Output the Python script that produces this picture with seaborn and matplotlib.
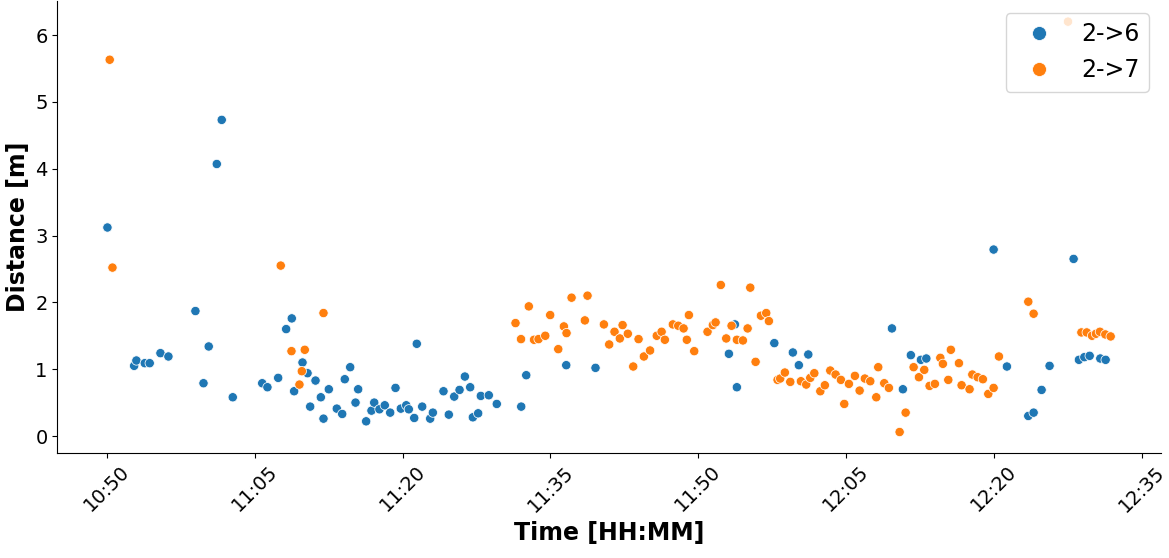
import numpy as np
import pandas as pd
import matplotlib
matplotlib.use("Agg")
import matplotlib.pyplot as plt
import matplotlib.dates as mdates
import seaborn as sns

# minutes after 10:50 and distance [m], link 2->6
t_26 = [0.03, 2.74, 2.97, 3.82, 4.32, 5.41, 6.22, 8.96, 9.78, 10.31, 11.13, 11.63, 12.75,
        15.74, 16.27, 17.36, 18.17, 18.74, 18.98, 19.83, 20.34, 20.61, 21.15, 21.69, 21.96,
        22.50, 23.31, 23.86, 24.12, 24.67, 25.21, 25.48, 26.29, 26.83, 27.11, 27.64, 28.18,
        28.73, 29.27, 29.81, 30.36, 30.62, 31.17, 31.43, 31.98, 32.79, 33.06, 34.14, 34.68,
        35.23, 35.77, 36.31, 36.85, 37.12, 37.66, 37.93, 38.74, 39.55, 42.03, 42.54, 46.60,
        49.57, 63.11, 63.72, 63.92, 67.72, 69.60, 70.21, 71.17, 79.66, 80.77, 81.58, 82.60,
        83.15, 89.98, 91.33, 93.50, 94.04, 94.85, 95.66, 98.10, 98.64, 99.19, 99.73, 100.81,
        101.35]
d_26 = [3.12, 1.05, 1.13, 1.09, 1.09, 1.24, 1.19, 1.87, 0.79, 1.34, 4.07, 4.73, 0.58,
        0.79, 0.73, 0.87, 1.60, 1.76, 0.67, 1.10, 0.94, 0.44, 0.83, 0.58, 0.26,
        0.70, 0.41, 0.33, 0.85, 1.03, 0.50, 0.70, 0.22, 0.38, 0.50, 0.40, 0.46,
        0.35, 0.72, 0.41, 0.46, 0.40, 0.27, 1.38, 0.44, 0.26, 0.35, 0.67, 0.32,
        0.59, 0.69, 0.89, 0.73, 0.28, 0.34, 0.60, 0.61, 0.48, 0.44, 0.91, 1.06,
        1.02, 1.23, 1.67, 0.73, 1.39, 1.25, 1.06, 1.22, 1.61, 0.70, 1.21, 1.14,
        1.16, 2.79, 1.04, 0.30, 0.35, 0.69, 1.05, 2.65, 1.14, 1.18, 1.20, 1.16,
        1.14]

# minutes after 10:50 and distance [m], link 2->7
t_27 = [0.26, 0.54, 17.62, 18.71, 19.52, 19.76, 20.06, 21.96, 41.45, 42.01, 42.80, 43.33,
        43.79, 44.47, 44.97, 45.79, 46.36, 46.63, 47.14, 48.49, 48.76, 50.42, 50.96, 51.50,
        52.04, 52.32, 52.85, 53.40, 53.94, 54.48, 55.11, 55.79, 56.28, 56.61, 57.42, 57.97,
        58.51, 58.84, 59.05, 59.59, 60.94, 61.48, 61.76, 62.29, 62.84, 63.38, 63.92, 64.53,
        65.01, 65.28, 65.82, 66.36, 66.90, 67.17, 68.05, 68.32, 68.79, 69.34, 70.42, 70.96,
        71.37, 71.78, 72.39, 72.85, 73.40, 73.94, 74.48, 74.82, 75.29, 75.90, 76.38, 76.91,
        77.46, 78.07, 78.27, 78.88, 79.35, 80.44, 81.05, 81.86, 82.40, 82.94, 83.48, 84.02,
        84.57, 84.83, 85.38, 85.64, 86.46, 86.73, 87.54, 87.82, 88.36, 88.89, 89.44, 89.98,
        90.52, 93.50, 94.04, 97.53, 98.89, 99.43, 99.97, 100.37, 100.77, 101.32, 101.86]
d_27 = [5.63, 2.52, 2.55, 1.27, 0.77, 0.97, 1.29, 1.84, 1.69, 1.45, 1.94, 1.44,
        1.45, 1.50, 1.81, 1.30, 1.64, 1.54, 2.07, 1.73, 2.10, 1.67, 1.37, 1.56,
        1.46, 1.66, 1.53, 1.04, 1.45, 1.19, 1.28, 1.50, 1.56, 1.44, 1.67, 1.65,
        1.61, 1.44, 1.81, 1.27, 1.56, 1.66, 1.70, 2.26, 1.46, 1.65, 1.44, 1.43,
        1.61, 2.22, 1.11, 1.80, 1.84, 1.72, 0.84, 0.86, 0.95, 0.81, 0.82, 0.77,
        0.87, 0.94, 0.67, 0.76, 0.98, 0.92, 0.84, 0.48, 0.78, 0.90, 0.68, 0.86,
        0.82, 0.58, 1.03, 0.79, 0.72, 0.06, 0.35, 1.03, 0.88, 0.99, 0.75, 0.78,
        1.17, 1.08, 0.84, 1.29, 1.09, 0.76, 0.70, 0.92, 0.88, 0.85, 0.63, 0.72,
        1.19, 2.01, 1.83, 6.20, 1.55, 1.55, 1.50, 1.53, 1.56, 1.52, 1.49]

start = pd.Timestamp("2021-06-01 10:50:00")

df = pd.DataFrame({
    "time": np.concatenate([t_26, t_27]),
    "distance": np.concatenate([d_26, d_27]),
    "link": ["2->6"] * len(t_26) + ["2->7"] * len(t_27),
})
df["time"] = start + pd.to_timedelta(df["time"], unit="min")

fig, ax = plt.subplots(figsize=(11.69, 5.58), dpi=100)
sns.scatterplot(data=df, x="time", y="distance", hue="link", s=45, ax=ax)

ax.xaxis.set_major_locator(mdates.MinuteLocator(byminute=[5, 20, 35, 50]))
ax.xaxis.set_major_formatter(mdates.DateFormatter("%H:%M"))
plt.xticks(rotation=45, fontsize=14)
plt.yticks(fontsize=14)
ax.set_xlabel("Time [HH:MM]", fontsize=17, fontweight="bold")
ax.set_ylabel("Distance [m]", fontsize=17, fontweight="bold")
ax.legend(loc="upper right", fontsize=17, markerscale=1.5)
sns.despine()

fig.subplots_adjust(left=0.049, right=0.993, top=0.998, bottom=0.189)
fig.savefig("out.png", dpi=100)
